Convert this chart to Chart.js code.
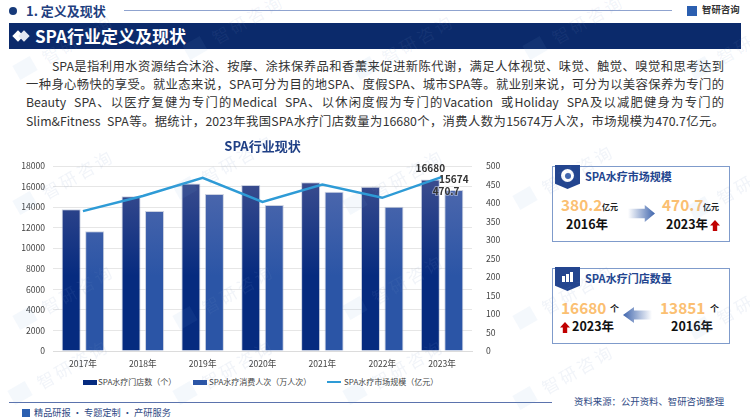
<!DOCTYPE html>
<html>
<head>
<meta charset="utf-8">
<script src="https://cdn.jsdelivr.net/npm/chart.js@4"></script>
<style>
html, body { margin: 0; padding: 0; background: #fff; }
body { width: 750px; height: 420px; position: relative; overflow: hidden; font-family: 'Noto Sans CJK SC', sans-serif; color: #333; }
.abs { position: absolute; white-space: nowrap; line-height: 1; }
.line { position: absolute; left: 26px; width: 698px; font-size: 12.3px; line-height: 18px; height: 18px; color: #333; text-align: justify; text-align-last: justify; white-space: pre; }
.card { position: absolute; left: 552px; width: 176px; height: 74px; border: 1.2px solid #7f9bcb; background: rgba(255,255,255,.6); }
.ribbon { position: absolute; left: 555px; width: 25px; height: 24px; background: #23458f; clip-path: polygon(0 0, 100% 0, 100% 78%, 50% 100%, 0 78%); }
.cardTitle { font-size: 11px; font-weight: 700; color: #23458f; }
.num { font-size: 15.4px; font-weight: 700; color: #fbbf72; }
.unit { font-size: 8px; font-weight: 700; color: #222; }
.yr { font-size: 12.5px; font-weight: 700; color: #111; }
.up { position: absolute; width: 10px; height: 11px; background: #c00000; clip-path: polygon(50% 0, 100% 50%, 72% 50%, 72% 100%, 28% 100%, 28% 50%, 0 50%); }
.wm { position: absolute; font-size: 17px; letter-spacing: 3px; color: rgba(120,145,195,.1); transform: rotate(-30deg); transform-origin: left center; white-space: nowrap; line-height: 1; }
.wmLogo { position: absolute; width: 20px; height: 16px; background: rgba(120,160,220,.08); transform: rotate(-30deg); }
.lg { position: absolute; top: 378px; font-size: 8px; line-height: 1; color: #444; white-space: nowrap; }
.lgBox { position: absolute; top: 380px; width: 14px; height: 5px; }
#chartBox { position: absolute; left: 0; top: 130px; width: 525px; height: 245px; }
</style>
</head>
<body>

<div class="abs" style="left:9px;top:7px;width:8px;height:8px;border-radius:50%;background:#173a7a"></div>
<div class="abs" style="left:26px;top:4px;font-size:13px;font-weight:700;color:#1f3f80">1. 定义及现状</div>
<div class="abs" style="left:124px;top:10px;width:548px;height:1px;background:#8fa3cf"></div>
<div class="abs" style="left:687px;top:6px;width:10px;height:10px;background:#2b5fb0"></div>
<div class="abs" style="left:702px;top:5px;font-size:9.4px;font-weight:700;color:#333">智研咨询</div>

<div class="abs" style="left:9px;top:23px;width:732px;height:26px;background:#0b2a6b"></div>
<div class="abs" style="left:14px;top:32px;width:8px;height:8px;background:#fff;transform:rotate(45deg)"></div>
<div class="abs" style="left:20px;top:32px;width:8px;height:8px;background:#e4e8f2;transform:rotate(45deg)"></div>
<div class="abs" style="left:35px;top:27px;font-size:17px;font-weight:700;color:#fff">SPA行业定义及现状</div>

<div class="line" style="top:57px;left:52px;width:672px">SPA是指利用水资源结合沐浴、按摩、涂抹保养品和香薰来促进新陈代谢，满足人体视觉、味觉、触觉、嗅觉和思考达到</div>
<div class="line" style="top:75px">一种身心畅快的享受。就业态来说，SPA可分为目的地SPA、度假SPA、城市SPA等。就业别来说，可分为以美容保养为专门的</div>
<div class="line" style="top:93px">Beauty  SPA、以医疗复健为专门的Medical  SPA、以休闲度假为专门的Vacation  或Holiday  SPA及以减肥健身为专门的</div>
<div class="line" style="top:112px">Slim&amp;Fitness  SPA等。据统计，2023年我国SPA水疗门店数量为16680个，消费人数为15674万人次，市场规模为470.7亿元。</div>

<div id="chartBox"><canvas id="myChart"></canvas></div>
<div id="legend"></div>

<div class="card" style="top:166px"></div>
<div class="ribbon" style="top:165px"></div>
<div class="abs" style="left:561px;top:169px;width:13px;height:13px;border-radius:50%;background:#fff"></div>
<div class="abs" style="left:565px;top:173px;width:6px;height:6px;border-radius:50%;background:#3f65ad"></div>
<div class="abs cardTitle" style="left:585px;top:171px">SPA水疗市场规模</div>
<div class="abs num" style="left:561px;top:197px">380.2</div>
<div class="abs unit" style="left:602px;top:203px">亿元</div>
<div class="abs yr" style="left:566px;top:218px">2016年</div>
<div class="abs" style="left:628px;top:205px;width:27px;height:17px;background:linear-gradient(90deg,#fff,#3f65ad);clip-path:polygon(0 22%,62% 22%,62% 0,100% 50%,62% 100%,62% 78%,0 78%)"></div>
<div class="abs num" style="left:662px;top:197px">470.7</div>
<div class="abs unit" style="left:703px;top:203px">亿元</div>
<div class="abs yr" style="left:666px;top:218px">2023年</div>
<div class="up" style="left:710px;top:220px"></div>

<div class="card" style="top:268px"></div>
<div class="ribbon" style="top:267px"></div>
<div class="abs" style="left:562px;top:276px;width:3px;height:6px;background:#fff"></div>
<div class="abs" style="left:566px;top:274px;width:3px;height:8px;background:#fff"></div>
<div class="abs" style="left:570px;top:272px;width:3px;height:10px;background:#fff"></div>
<div class="abs cardTitle" style="left:585px;top:273px">SPA水疗门店数量</div>
<div class="abs num" style="left:561px;top:300px">16680</div>
<div class="abs unit" style="left:610px;top:304px;font-size:9px">个</div>
<div class="abs" style="left:623px;top:307px;width:29px;height:16px;background:linear-gradient(270deg,#fff,#3f65ad);clip-path:polygon(100% 22%,38% 22%,38% 0,0 50%,38% 100%,38% 78%,100% 78%)"></div>
<div class="abs num" style="left:660px;top:300px">13851</div>
<div class="abs unit" style="left:710px;top:304px;font-size:9px">个</div>
<div class="abs yr" style="left:572px;top:320px">2023年</div>
<div class="up" style="left:560px;top:322px"></div>
<div class="abs yr" style="left:671px;top:320px">2016年</div>

<div class="abs" style="left:9px;top:402px;width:543px;height:1px;background:#5b73ad"></div>
<div class="abs" style="left:22px;top:409px;width:8px;height:8px;background:#2b5fb0"></div>
<div class="abs" style="left:34px;top:408px;font-size:9.2px;color:#2f4a85">精品研报 · 专题定制 · 产研服务</div>
<div class="abs" style="left:574px;top:397px;font-size:9.4px;color:#2f4a85">资料来源：公开资料、智研咨询整理</div>

<script>
const categories = ['2017年', '2018年', '2019年', '2020年', '2021年', '2022年', '2023年'];
const storeCounts = [13800, 15050, 16300, 16150, 16420, 15990, 16680];
const visitorCounts = [11640, 13620, 15280, 14200, 15500, 14040, 15674];
const marketSize = [378, 419, 468, 403, 450, 414, 470.7];
const leftTicks = { min: 0, max: 18000, step: 2000 };
const rightTicks = { min: 0, max: 500, step: 50 };
const seriesNames = ['SPA水疗门店数（个）', 'SPA水疗消费人次（万人次）', 'SPA水疗市场规模（亿元）'];

// faint watermark tiles behind everything
const wmSpots = [[15, 60], [185, 40], [355, 60], [525, 40], [690, 60], [15, 195], [175, 180], [345, 195], [515, 190], [690, 200], [15, 310], [175, 310], [345, 300], [515, 310], [10, 385], [175, 385], [345, 385], [515, 390], [690, 320]];
wmSpots.forEach(function (p) {
    let logo = document.createElement('div');
    logo.className = 'wmLogo';
    logo.style.left = p[0] + 'px';
    logo.style.top = p[1] + 'px';
    document.body.appendChild(logo);
    let txt = document.createElement('div');
    txt.className = 'wm';
    txt.textContent = '智研咨询';
    txt.style.left = (p[0] + 28) + 'px';
    txt.style.top = (p[1] - 10) + 'px';
    document.body.appendChild(txt);
});

// legend written by hand so the spacing follows the picture
const legendEl = document.getElementById('legend');
const legendStyle = [
    { box: 83, text: 98, bg: '#062b7f', h: 5 },
    { box: 193, text: 209, bg: '#2b55a6', h: 5 },
    { box: 327, text: 344, bg: '#2e9bd6', h: 2 }
];
seriesNames.forEach(function (name, i) {
    let s = legendStyle[i];
    let box = document.createElement('div');
    box.className = 'lgBox';
    box.style.left = s.box + 'px';
    box.style.background = s.bg;
    box.style.height = s.h + 'px';
    if (s.h === 2) box.style.top = '381px';
    legendEl.appendChild(box);
    let txt = document.createElement('div');
    txt.className = 'lg';
    txt.style.left = s.text + 'px';
    txt.textContent = name;
    legendEl.appendChild(txt);
});

function barGradient(topColor, bottomColor) {
    return function (context) {
        const area = context.chart.chartArea;
        if (!area) return bottomColor;
        const g = context.chart.ctx.createLinearGradient(0, area.top + 10, 0, area.top + 110);
        g.addColorStop(0, topColor);
        g.addColorStop(1, bottomColor);
        return g;
    };
}

// value labels on the last year only
const lastYearLabels = {
    id: 'lastYearLabels',
    afterDatasetsDraw(chart) {
        const ctx = chart.ctx;
        const last = categories.length - 1;
        ctx.save();
        ctx.font = 'bold 10px "Noto Sans CJK SC"';
        ctx.fillStyle = '#333';
        ctx.textAlign = 'center';
        ctx.textBaseline = 'middle';
        const linePoint = chart.getDatasetMeta(0).data[last];
        const storeBar = chart.getDatasetMeta(1).data[last];
        const visitorBar = chart.getDatasetMeta(2).data[last];
        ctx.fillText(storeCounts[last], storeBar.x, storeBar.y - 11);
        ctx.fillText(visitorCounts[last], visitorBar.x, visitorBar.y - 11);
        // this one sits on the bars, a light edge keeps it readable
        ctx.strokeStyle = 'rgba(255,255,255,.4)';
        ctx.lineWidth = 2;
        ctx.strokeText(marketSize[last], linePoint.x + 4, linePoint.y + 14);
        ctx.fillText(marketSize[last], linePoint.x + 4, linePoint.y + 14);
        ctx.restore();
    }
};

const ctx = document.getElementById('myChart');
const tickFont = { family: 'Noto Sans CJK SC', size: 8.6 };

new Chart(ctx, {
    data: {
        labels: categories,
        datasets: [{
            type: 'line',
            label: seriesNames[2],
            data: marketSize,
            yAxisID: 'y1',
            borderColor: '#2e9bd6',
            borderWidth: 2.5,
            pointRadius: 0,
            tension: 0,
            order: 0
        }, {
            type: 'bar',
            label: seriesNames[0],
            data: storeCounts,
            yAxisID: 'y',
            backgroundColor: barGradient('#3d4e8f', '#062b7f'),
            borderColor: 'rgba(170,180,205,.6)',
            borderWidth: 1,
            order: 1
        }, {
            type: 'bar',
            label: seriesNames[1],
            data: visitorCounts,
            yAxisID: 'y',
            backgroundColor: barGradient('#5069ad', '#2b55a6'),
            borderColor: 'rgba(170,180,205,.6)',
            borderWidth: 1,
            order: 1
        }]
    },
    options: {
        responsive: true,
        maintainAspectRatio: false,
        animation: false,
        layout: { padding: 0 },
        datasets: { bar: { categoryPercentage: 0.785, barPercentage: 0.81 } },
        plugins: {
            legend: { display: false },
            tooltip: { enabled: false },
            title: {
                display: true,
                text: 'SPA行业现状',
                color: '#1f3f85',
                font: { family: 'Noto Sans CJK SC', size: 13, weight: 'bold' },
                padding: { top: 8, bottom: 12.4 }
            }
        },
        scales: {
            x: {
                grid: { display: false },
                border: { color: '#dcdcdc' },
                ticks: { color: '#444', font: tickFont, padding: 0, maxRotation: 0 },
                afterFit: function (scale) { scale.height = 24; }
            },
            y: {
                position: 'left',
                min: leftTicks.min,
                max: leftTicks.max,
                grid: { color: '#e6e6e6', drawTicks: false },
                border: { display: false },
                ticks: { stepSize: leftTicks.step, color: '#444', font: tickFont, padding: 8, callback: function (v) { return String(v); } },
                afterFit: function (scale) { scale.width = 53; }
            },
            y1: {
                position: 'right',
                min: rightTicks.min,
                max: rightTicks.max,
                grid: { display: false, drawTicks: false },
                border: { display: false },
                ticks: { stepSize: rightTicks.step, color: '#444', font: tickFont, padding: 14, callback: function (v) { return String(v); } },
                afterFit: function (scale) { scale.width = 53; }
            }
        }
    },
    plugins: [lastYearLabels]
});
</script>
</body>
</html>
